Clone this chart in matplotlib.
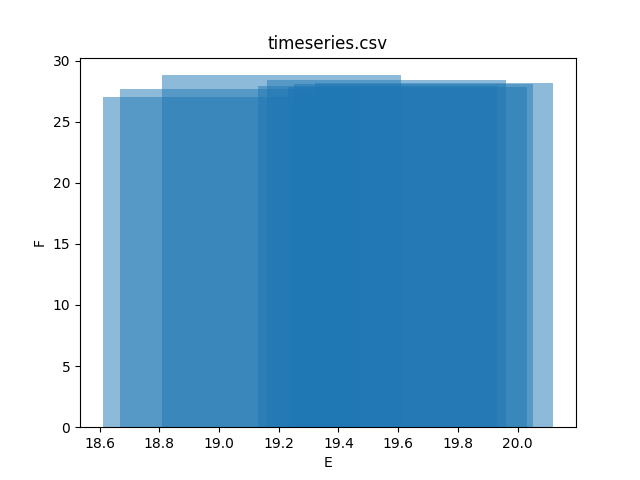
import matplotlib
matplotlib.use("Agg")
import matplotlib.pyplot as plt

e_values = [19.01, 19.07, 19.21, 19.53, 19.56, 19.63, 19.65, 19.72]
f_values = [27.0, 27.7, 28.8, 27.9, 28.4, 27.8, 28.1, 28.2]

fig, ax = plt.subplots(figsize=(6.4, 4.8), dpi=100)
ax.bar(e_values, f_values, alpha=0.5)
ax.set_title("timeseries.csv")
ax.set_xlabel("E")
ax.set_ylabel("F")
fig.savefig("out.png")
